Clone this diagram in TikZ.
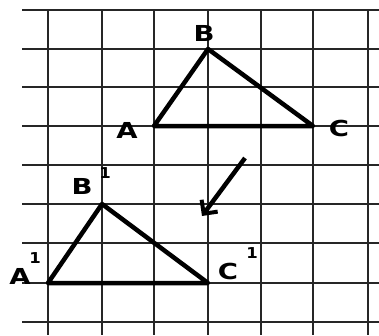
\documentclass[tikz,border=0pt]{standalone}
\usepackage{fontspec}
\setmainfont{DejaVu Sans}
\usetikzlibrary{arrows.meta}
\begin{document}
\begin{tikzpicture}[x=1pt,y=-1pt,
  gridline/.style={draw=black!85,line width=2pt},
  tri/.style={draw=black,line width=4.5pt,line join=round,line cap=round},
  lbl/.style={font=\bfseries\fontsize{22}{22}\selectfont,inner sep=0pt,xscale=1.25},
  sup/.style={font=\bfseries\fontsize{15}{15}\selectfont,inner sep=0pt,xscale=1.1}]
\useasboundingbox (0,0) rectangle (379,335);
% grid
\foreach \y in {10,49,87,126,165,204,243,283,322} \draw[gridline] (22,\y) -- (379,\y);
\foreach \x in {48,102,154,208,261,313,368} \draw[gridline] (\x,10) -- (\x,335);
% triangle ABC
\coordinate (A) at (154,126);
\coordinate (B) at (208,49);
\coordinate (C) at (313,126);
\draw[tri] (A) -- (B) -- (C) -- cycle;
% triangle A1B1C1
\coordinate (A1) at (48,283);
\coordinate (B1) at (102,204);
\coordinate (C1) at (208,283);
\draw[tri] (A1) -- (B1) -- (C1) -- cycle;
% labels
\node[lbl] (lA) at (127,130) {A};
\node[lbl] (lB) at (204,33) {B};
\node[lbl] (lC) at (339,128) {C};
\node[lbl] (lB1) at (82,186) {B};
\node[sup] (sB1) at (105,173) {1};
\node[lbl] (lA1) at (20,276) {A};
\node[sup] (sA1) at (35,258) {1};
\node[lbl] (lC1) at (228,271) {C};
\node[sup] (sC1) at (252,253) {1};
% arrow
\coordinate (p) at (245,158);
\coordinate (q) at (202,216);
\draw[line width=4.5pt,-{Straight Barb[length=10pt,width=20pt,line width=4pt]}] (p) -- (q);
\end{tikzpicture}
\end{document}
